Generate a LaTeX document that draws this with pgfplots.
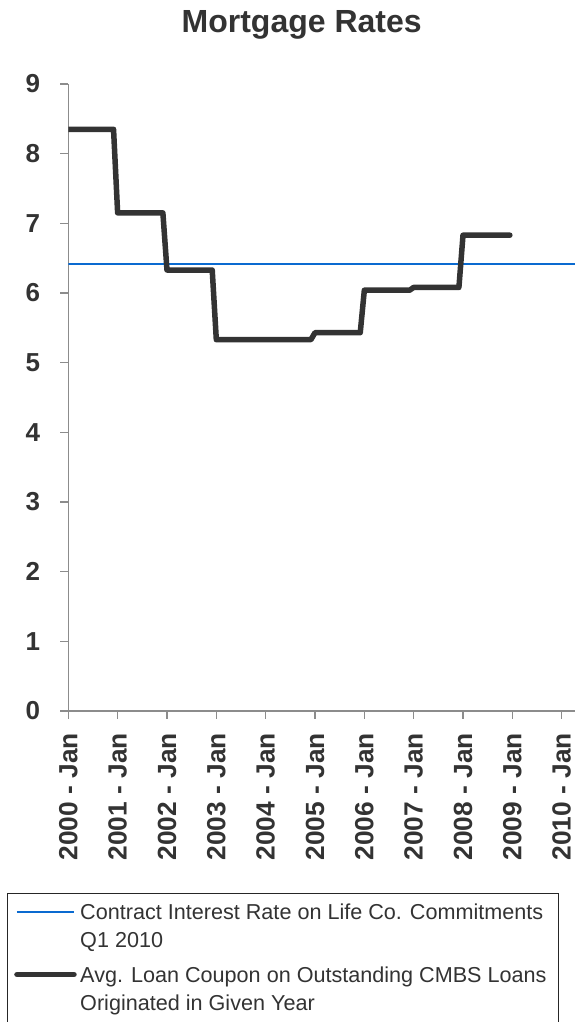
\documentclass[border=0pt]{standalone}
\usepackage{pgfplots}
\pgfplotsset{compat=1.18}
\usepackage{fontspec}
\setmainfont{Liberation Sans}
\definecolor{txt}{HTML}{333333}
\definecolor{axgray}{HTML}{8C8C8C}
\definecolor{rateblue}{HTML}{0A6AD0}
\definecolor{cmbs}{HTML}{333333}
\begin{document}
\begin{tikzpicture}[x=1pt,y=1pt]
\useasboundingbox (0,0) rectangle (575,1022);
\node[anchor=base, text=txt, font=\fontsize{32}{38}\selectfont\bfseries] at (301.7,989.3) {Mortgage Rates};
\begin{axis}[
  at={(68.3pt,311pt)}, anchor=south west,
  scale only axis, width=506.7pt, height=627pt,
  xmin=2000, xmax=2010.27, ymin=0, ymax=9,
  axis lines=left,
  axis line style={-, draw=axgray, line width=1.3pt},
  every outer x axis line/.append style={-},
  every outer y axis line/.append style={-},
  tick style={draw=axgray, line width=1.3pt},
  tick align=outside, major tick length=8pt,
  xtick={2000,2001,2002,2003,2004,2005,2006,2007,2008,2009,2010},
  xticklabels={2000 - Jan,2001 - Jan,2002 - Jan,2003 - Jan,2004 - Jan,2005 - Jan,2006 - Jan,2007 - Jan,2008 - Jan,2009 - Jan,2010 - Jan},
  ytick={0,1,2,3,4,5,6,7,8,9},
  /pgf/number format/assume math mode=true,
  xticklabel style={rotate=90, anchor=east, inner sep=0pt, text=txt, font=\fontsize{26.3}{30}\selectfont\bfseries},
  yticklabel style={anchor=east, inner sep=0pt, text=txt, font=\fontsize{26}{30}\selectfont\bfseries},
  xticklabel shift=14pt,
  yticklabel shift=20pt,
  legend style={
    at={(axis description cs:-0.1209,-0.2907)}, anchor=north west,
    draw=black!85, line width=1.2pt, fill=white,
    inner xsep=6.6pt, inner ysep=10pt,
    row sep=15pt, column sep=3.5pt,
    nodes={inner sep=0pt, text depth={}, anchor=base west},
    cells={anchor=base west},
    font=\fontsize{21.6}{28.3}\selectfont, text=txt,
  },
  legend image code/.code={\draw[#1] (0pt,8pt) -- (57pt,8pt);},
]
\addplot[rateblue, line width=2pt] coordinates {(2000,6.41) (2010.27,6.41)};
\addlegendentry{\parbox[t]{471.5pt}{Contract Interest Rate on Life Co. Commitments\\Q1 2010}}
\addplot[cmbs, line width=5.5pt, line cap=round, line join=round] coordinates {
(2000,8.35) (2000.917,8.35)
(2001,7.15) (2001.917,7.15)
(2002,6.33) (2002.917,6.33)
(2003,5.33) (2004.917,5.33)
(2005,5.43) (2005.917,5.43)
(2006,6.04) (2006.917,6.04)
(2007,6.08) (2007.917,6.08)
(2008,6.83) (2008.95,6.83)
};
\addlegendentry{\parbox[t]{471.5pt}{Avg. Loan Coupon on Outstanding CMBS Loans\\Originated in Given Year}}
\end{axis}
\end{tikzpicture}
\end{document}
